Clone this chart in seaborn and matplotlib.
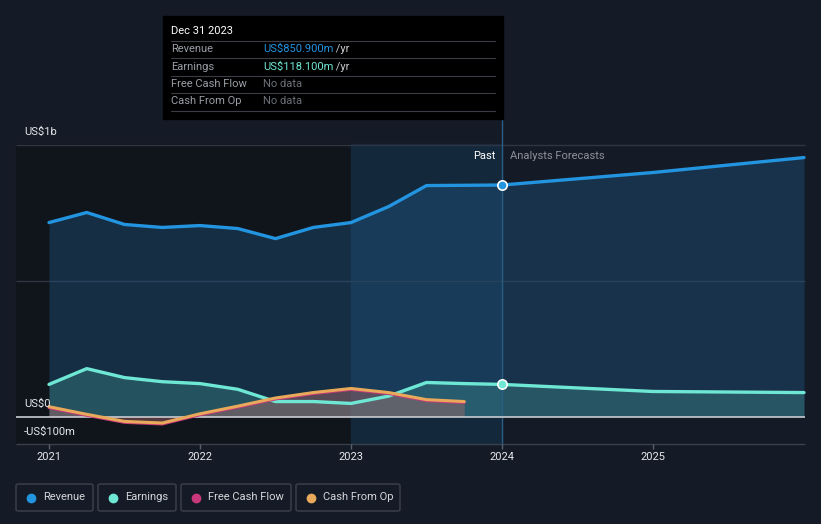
import numpy as np
import pandas as pd
import matplotlib
matplotlib.use("Agg")
import matplotlib.pyplot as plt
from matplotlib.patches import Rectangle, FancyBboxPatch
import seaborn as sns

# quarterly history (US$m)
past_dates = [2021.0, 2021.25, 2021.5, 2021.75, 2022.0, 2022.25, 2022.5,
              2022.75, 2023.0, 2023.25, 2023.5, 2023.75, 2024.0]
revenue = [713, 750, 706, 695, 702, 691, 654, 695, 713, 772, 849, 850, 851]
earnings = [118, 176, 143, 128, 121, 100, 55, 55, 48, 75, 125, 121, 118]

cf_dates = [2021.0, 2021.25, 2021.5, 2021.75, 2022.0, 2022.25, 2022.5,
            2022.75, 2023.0, 2023.25, 2023.5, 2023.75]
cash_from_op = [36, 8, -18, -24, 10, 38, 68, 88, 103, 88, 62, 55]
free_cash_flow = [33, 5, -21, -27, 7, 35, 65, 85, 100, 85, 59, 52]

# analyst forecasts
fc_dates = [2024.0, 2025.0, 2026.0]
revenue_fc = [851, 897, 952]
earnings_fc = [118, 92, 88]

year_ticks = [2021, 2022, 2023, 2024, 2025]

BG = "#151b26"
BLUE = "#2394df"
TEAL = "#6ee7d4"
PINK = "#c8387a"
ORANGE = "#e8a95a"

sns.set_theme(style="dark")
plt.rcParams["font.family"] = ["Roboto", "DejaVu Sans"]

W, H = 821, 524
fig = plt.figure(figsize=(W / 100, H / 100), dpi=100, facecolor=BG)
ax = fig.add_axes([0, 0, 1, 1])
ax.set_facecolor(BG)

# pixel mapping: x=49 -> 2021, 151 px/yr ; y=416.5 -> 0, 272 px per 1000m
x0 = 2021 - 49 / 151
ax.set_xlim(x0, x0 + W / 151)
ax.set_ylim(-(H - 416.5) / 272 * 1000, 416.5 / 272 * 1000)
ax.axis("off")

def px_x(p):
    return x0 + p / 151

def px_y(p):
    return (416.5 - p) / 272 * 1000

left, right = px_x(16), px_x(805)
top, bottom = 1000, -100

# background bands
ax.add_patch(Rectangle((left, bottom), 2023.0 - left, top - bottom,
                       color="#10141b", zorder=0))
ax.add_patch(Rectangle((2023.0, bottom), 1.0, top - bottom,
                       color="#13283a", zorder=0))

# grid
ax.hlines([1000, 500], left, right, color="#2f3541", lw=1, zorder=1)
ax.hlines(-100, left, right, color="#3a404b", lw=1, zorder=1)
ax.hlines(0, left, right, color="#c9ccd1", lw=1.2, zorder=6)

# fills
rev_all_x = past_dates + fc_dates[1:]
rev_all_y = revenue + revenue_fc[1:]
ern_all_y = earnings + earnings_fc[1:]
ax.fill_between(rev_all_x, rev_all_y, 0, color="#1f5f92", alpha=0.35, lw=0, zorder=2)
ax.fill_between(rev_all_x, ern_all_y, 0, color="#4fb3a6", alpha=0.28, lw=0, zorder=3)
ax.fill_between(cf_dates, cash_from_op, 0, color="#a86a6a", alpha=0.45, lw=0, zorder=4)

# lines
df_rev = pd.DataFrame({"date": past_dates, "value": revenue})
df_rev_fc = pd.DataFrame({"date": fc_dates, "value": revenue_fc})
df_ern = pd.DataFrame({"date": past_dates, "value": earnings})
df_ern_fc = pd.DataFrame({"date": fc_dates, "value": earnings_fc})
df_cfo = pd.DataFrame({"date": cf_dates, "value": cash_from_op})
df_fcf = pd.DataFrame({"date": cf_dates, "value": free_cash_flow})

sns.lineplot(data=df_rev, x="date", y="value", color=BLUE, lw=2.4, ax=ax, zorder=7)
sns.lineplot(data=df_rev_fc, x="date", y="value", color=BLUE, lw=2.4, ax=ax, zorder=7)
sns.lineplot(data=df_ern, x="date", y="value", color=TEAL, lw=2.4, ax=ax, zorder=7)
sns.lineplot(data=df_ern_fc, x="date", y="value", color=TEAL, lw=2.4, ax=ax, zorder=7)
sns.lineplot(data=df_fcf, x="date", y="value", color=PINK, lw=2.4, ax=ax, zorder=7)
sns.lineplot(data=df_cfo, x="date", y="value", color=ORANGE, lw=2.2, ax=ax, zorder=8)
ax.axis("off")
ax.set_xlim(x0, x0 + W / 151)
ax.set_ylim(-(H - 416.5) / 272 * 1000, 416.5 / 272 * 1000)

# hover line and markers
ax.vlines(2024.0, -100, px_y(119), color="#2a5d85", lw=1, zorder=5)
ax.scatter([2024.0], [revenue[-1]], s=45, color=BLUE, edgecolor="white", lw=1.2, zorder=9)
ax.scatter([2024.0], [earnings[-1]], s=45, color=TEAL, edgecolor="white", lw=1.2, zorder=9)

# y labels
txt = dict(color="#e6e8eb", fontsize=8, va="center", zorder=10)
ax.text(px_x(24), px_y(132), "US$1b", **txt)
ax.text(px_x(24), px_y(404), "US$0", **txt)
ax.text(px_x(24), px_y(432), "-US$100m", **txt)
ax.text(px_x(495), px_y(156), "Past", color="white", fontsize=8, ha="right", va="center")
ax.text(px_x(510), px_y(156), "Analysts Forecasts", color="#8b9099", fontsize=8, va="center")

# x ticks
for yr in year_ticks:
    ax.vlines(yr, px_y(444), px_y(449), color="#5a606b", lw=1)
    ax.text(yr, px_y(457), str(yr), color="#e6e8eb", fontsize=8, ha="center", va="center")

# tooltip
def fx(p):
    return p / W

def fy(p):
    return 1 - p / H

fig.patches.append(Rectangle((fx(163), fy(119)), fx(503) - fx(163), fy(16) - fy(119),
                             transform=fig.transFigure, color="black", zorder=20))
fig.text(fx(171), fy(31), "Dec 31 2023", color="white", fontsize=8, va="center", zorder=21)
rows = [("Revenue", "US$850.900m", BLUE, " /yr"),
        ("Earnings", "US$118.100m", TEAL, " /yr"),
        ("Free Cash Flow", "No data", "#6b7079", ""),
        ("Cash From Op", "No data", "#6b7079", "")]
for i, (lab, val, col, unit) in enumerate(rows):
    yy = 49 + i * 17.5
    sep = 40.5 + i * 17.5
    fig.add_artist(plt.Line2D([fx(171), fx(495)], [fy(sep), fy(sep)], color="#3a3d44",
                              lw=0.8, transform=fig.transFigure, zorder=21))
    fig.text(fx(171), fy(yy), lab, color="#9a9ea6", fontsize=8, va="center", zorder=21)
    t = fig.text(fx(263), fy(yy), val, color=col, fontsize=8, va="center", zorder=21)
    if unit:
        fig.canvas.draw()
        bb = t.get_window_extent()
        fig.text(bb.x1 / W, fy(yy), unit, color="#c9ccd1", fontsize=8, va="center", zorder=21)
fig.add_artist(plt.Line2D([fx(171), fx(495)], [fy(110.5), fy(110.5)], color="#3a3d44",
                          lw=0.8, transform=fig.transFigure, zorder=21))

# legend
legend = [("Revenue", BLUE, 16, 93), ("Earnings", TEAL, 98, 176),
          ("Free Cash Flow", PINK, 181, 291), ("Cash From Op", ORANGE, 296, 400)]
for name, col, a, b in legend:
    fig.patches.append(FancyBboxPatch((fx(a), fy(511)), fx(b) - fx(a), fy(484) - fy(511),
                                      boxstyle="round,pad=0,rounding_size=0.003",
                                      transform=fig.transFigure, facecolor=BG,
                                      edgecolor="#3c414c", lw=1, zorder=20))
    fig.add_artist(plt.Line2D([fx(a + 15)], [fy(497.5)], marker="o", markersize=6,
                              color=col, transform=fig.transFigure, zorder=21))
    fig.text(fx(a + 27), fy(497.5), name, color="#d4d6da", fontsize=8, va="center", zorder=21)

fig.savefig("out.png", dpi=100, facecolor=BG)
